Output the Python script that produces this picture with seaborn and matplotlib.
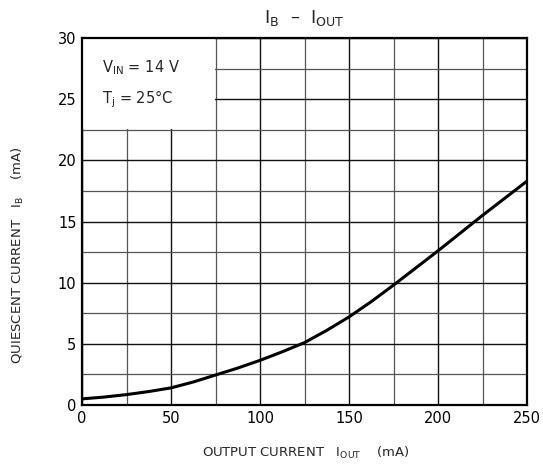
import seaborn as sns
import matplotlib.pyplot as plt
import pandas as pd
from matplotlib.patches import Rectangle

# values
i_out = [0, 12.5, 25, 37.5, 50, 62.5, 75, 87.5, 100, 112.5, 125, 137.5,
         150, 162.5, 175, 187.5, 200, 212.5, 225, 237.5, 250]
i_b = [0.5, 0.65, 0.85, 1.1, 1.4, 1.88, 2.45, 3.02, 3.65, 4.35, 5.1, 6.1,
       7.2, 8.45, 9.8, 11.2, 12.6, 14.05, 15.5, 16.9, 18.3]
x_ticks = [0, 50, 100, 150, 200, 250]
y_ticks = [0, 5, 10, 15, 20, 25, 30]

df = pd.DataFrame({'iout': i_out, 'ib': i_b})

sns.set_style('white')
plt.rcParams['font.family'] = ['DejaVu Sans']
plt.rcParams['mathtext.default'] = 'regular'

fig = plt.figure(figsize=(5.43, 4.73), dpi=100)
ax = fig.add_axes([82/543, 68/473, 445/543, 367/473])

sns.lineplot(data=df, x='iout', y='ib', color='black', linewidth=2.2, ax=ax, zorder=3)

ax.set_xlim(0, 250)
ax.set_ylim(0, 30)
ax.set_xticks(x_ticks)
ax.set_yticks(y_ticks)
ax.set_xticks(range(25, 250, 50), minor=True)
ax.set_yticks([2.5 + 5 * k for k in range(6)], minor=True)
ax.set_axisbelow(True)
ax.grid(which='major', color='#111111', linewidth=1.0)
ax.grid(which='minor', color='#555555', linewidth=0.9)
ax.tick_params(which='both', length=0, labelsize=10.5, pad=4, colors='black')

# blank box holding the conditions
ax.add_patch(Rectangle((0, 22.56), 74.65, 7.44, facecolor='white', edgecolor='none', zorder=0.8))
ax.text(11, 27.6, r'$V_{IN}$ = 14 V', fontsize=10.5, va='center')
ax.text(11, 25.0, r'$T_{j}$ = 25°C', fontsize=10.5, va='center')

for s in ax.spines.values():
    s.set_color('black')
    s.set_linewidth(1.6)

ax.set_xlabel('')
ax.set_ylabel('')
fig.text(304/543, 1 - 18/473, r'$I_{B}$  –  $I_{OUT}$', fontsize=13, ha='center', va='center')
fig.text(306/543, 1 - 453/473, r'OUTPUT CURRENT   $I_{OUT}$    (mA)', fontsize=9.5, ha='center', va='center')
fig.text(18/543, 1 - 255/473, r'QUIESCENT CURRENT   $I_{B}$    (mA)', fontsize=9.5, ha='center', va='center', rotation=90)

fig.savefig('out.png', dpi=100)
